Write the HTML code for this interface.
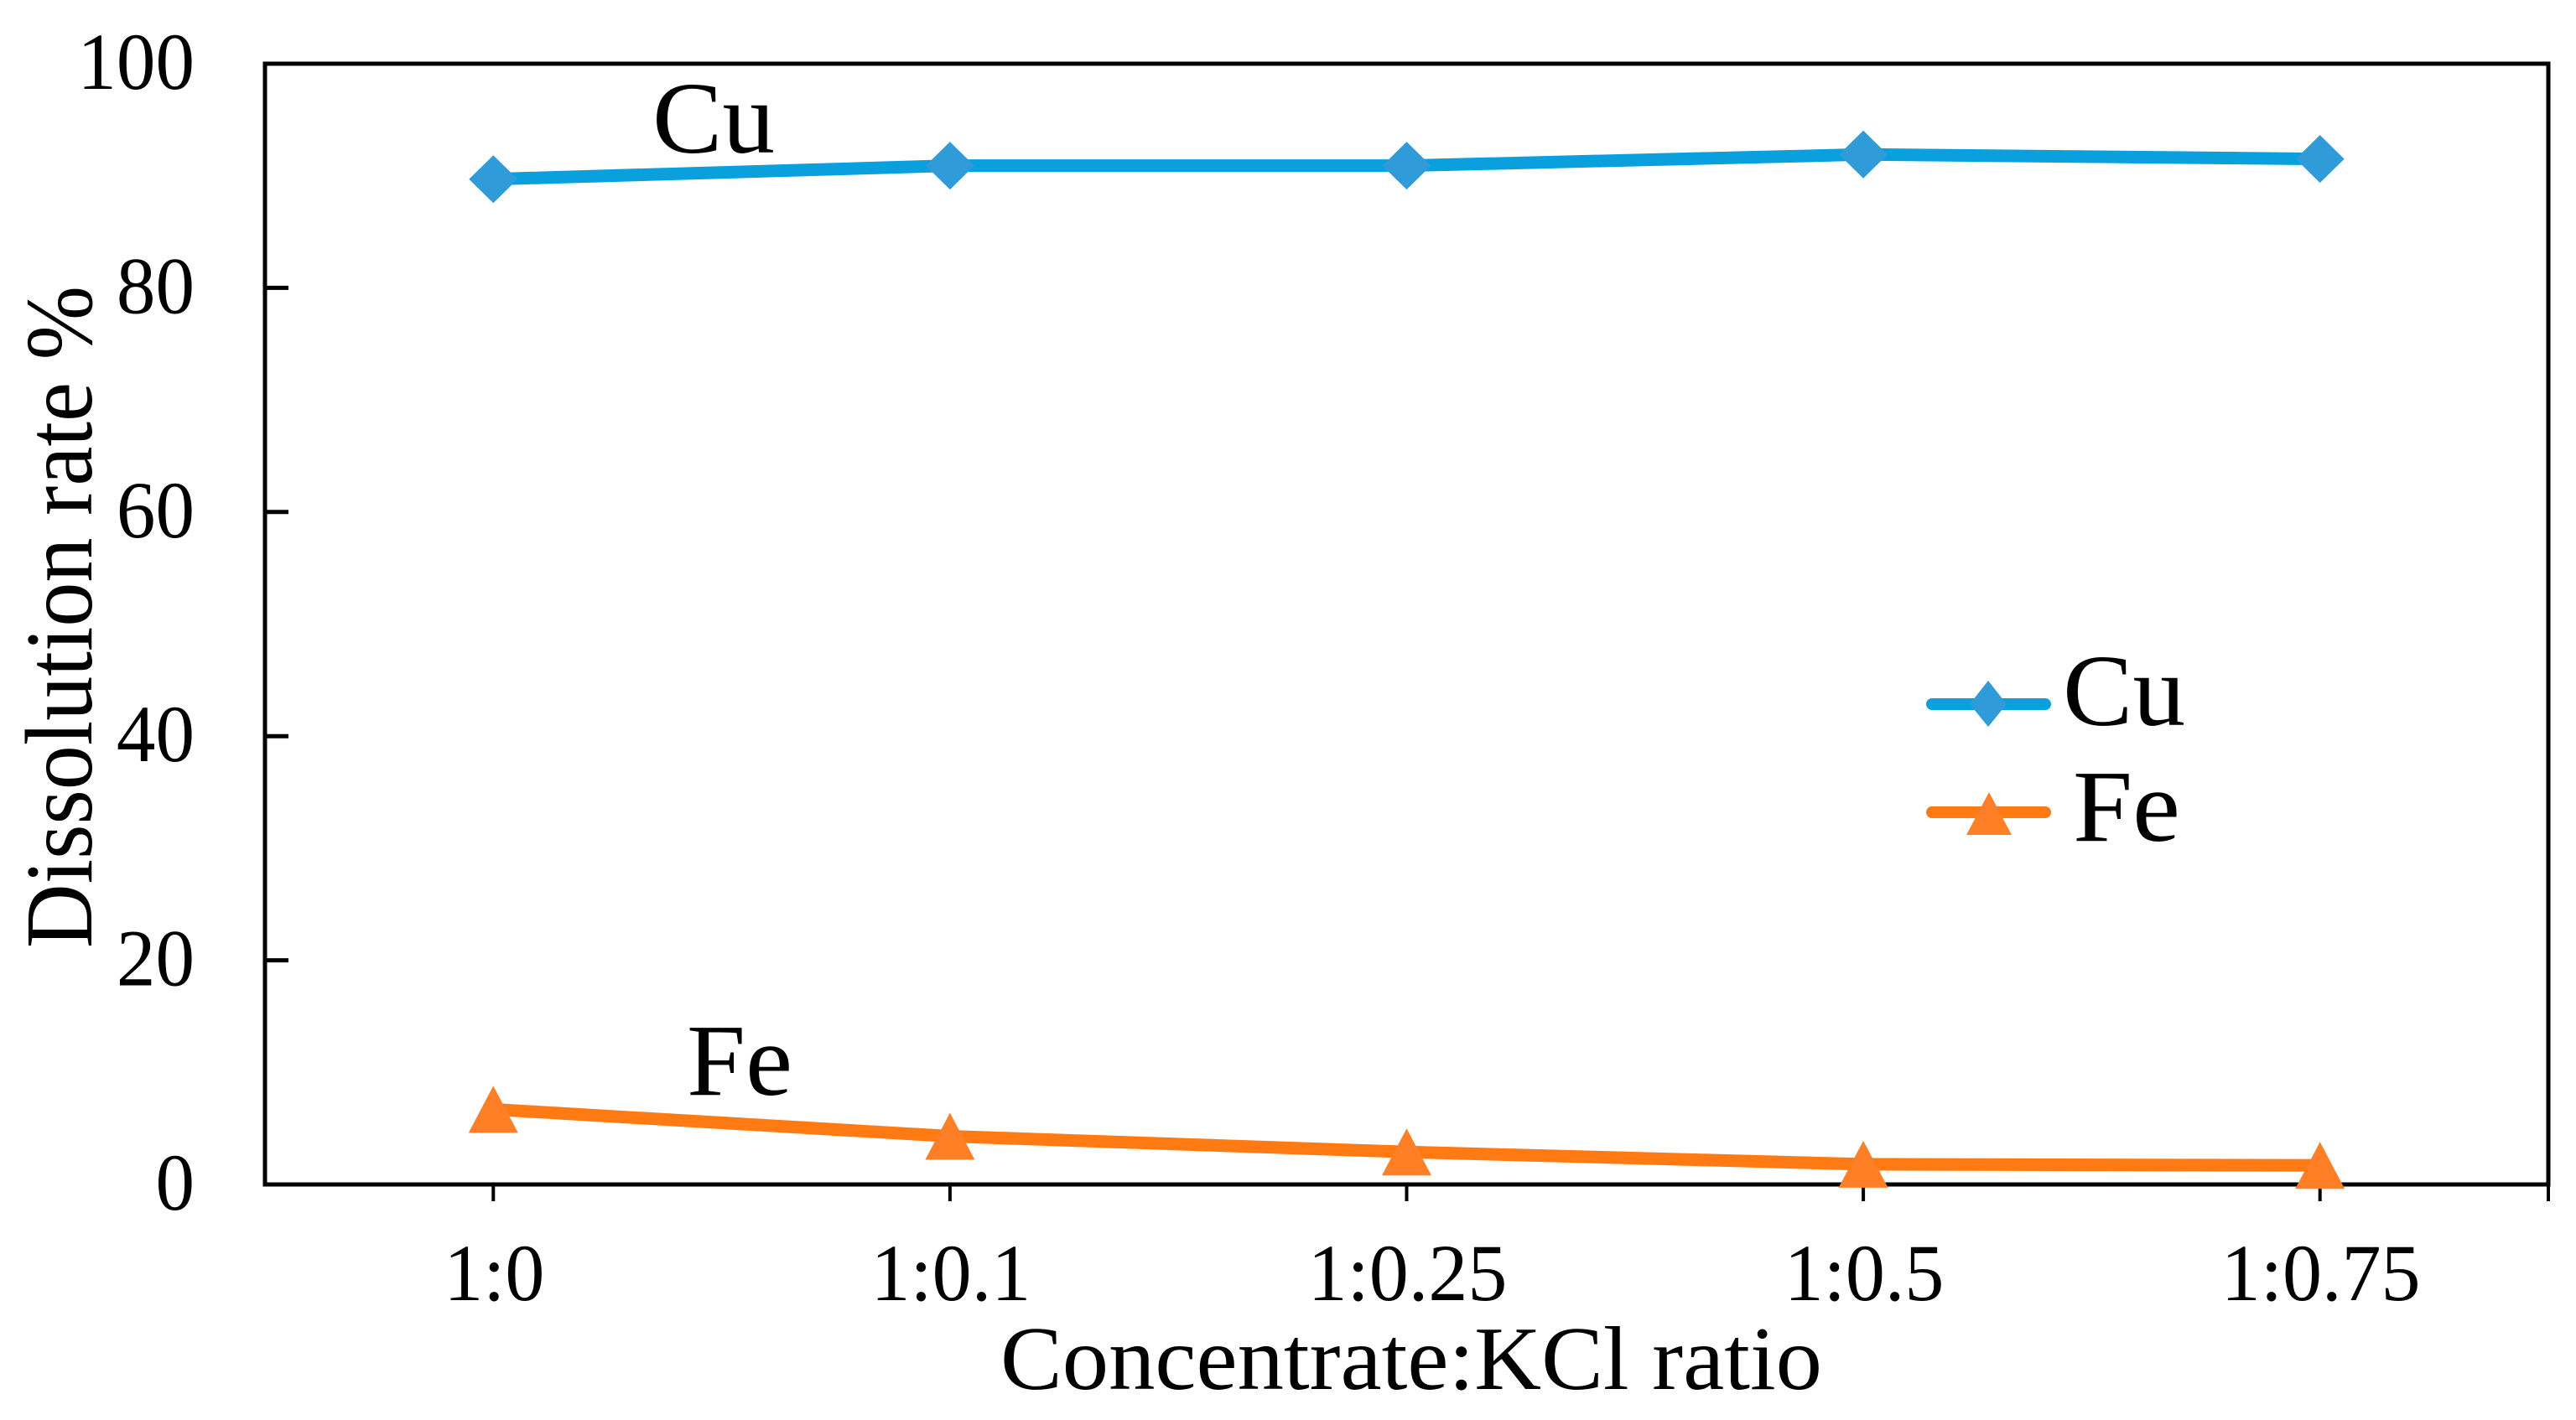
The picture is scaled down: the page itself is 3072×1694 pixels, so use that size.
<!DOCTYPE html>
<html lang="en">
<head>
<meta charset="utf-8">
<title>Dissolution rate vs Concentrate:KCl ratio</title>
<style>
html,body{margin:0;padding:0;background:#fff;width:3072px;height:1694px;overflow:hidden}
svg{display:block}
text{font-family:"Liberation Serif",serif;fill:#000}
</style>
</head>
<body>
<svg id="chart" xmlns="http://www.w3.org/2000/svg" width="3072" height="1694" viewBox="0 0 3072 1694">
  <rect width="3072" height="1694" fill="#fff"/>
  <text transform="translate(109,1131) rotate(-90)" font-size="114" textLength="790" lengthAdjust="spacingAndGlyphs">Dissolution rate %</text>
  <text x="1193" y="1657" font-size="108" textLength="980" lengthAdjust="spacingAndGlyphs">Concentrate:KCl ratio</text>
  <g id="axes"></g>
  <g id="series"></g>
  <text x="778" y="182" font-size="122" textLength="146" lengthAdjust="spacingAndGlyphs">Cu</text>
  <text x="819" y="1306" font-size="122" textLength="126" lengthAdjust="spacingAndGlyphs">Fe</text>
  <g>
    <g>
      <line x1="2304" y1="840" x2="2439" y2="840" stroke="#0A9FDD" stroke-width="14" stroke-linecap="round"/>
      <polygon points="2381,812 2403,840 2381,867 2359,840" fill="#2F9BD9" transform="translate(-10,0)"/>
      <text x="2460" y="865" font-size="122" textLength="146" lengthAdjust="spacingAndGlyphs">Cu</text>
    </g>
    <g>
      <line x1="2304" y1="969" x2="2439" y2="969" stroke="#FF7A12" stroke-width="14" stroke-linecap="round"/>
      <polygon points="2382,945 2409,996 2355,996" fill="#FF7F27" transform="translate(-10,0)"/>
      <text x="2472" y="1003" font-size="122" textLength="128" lengthAdjust="spacingAndGlyphs">Fe</text>
    </g>
  </g>
</svg>
<script>
const categories = ["1:0", "1:0.1", "1:0.25", "1:0.5", "1:0.75"];
const cuValues = [89.7, 90.9, 90.9, 91.9, 91.5];
const feValues = [6.7, 4.3, 2.9, 1.8, 1.7];
const yTicks = [0, 20, 40, 60, 80, 100];

const NS = "http://www.w3.org/2000/svg";
const left = 316, right = 3039, top_ = 76, bottom = 1413;
const yMax = 100;
const xScale = i => left + (right - left) * (i + 0.5) / categories.length;
const yScale = v => bottom - (bottom - top_) * v / yMax;

function make(tag, parent, attrs) {
  const el = document.createElementNS(NS, tag);
  for (const k in attrs) el.setAttribute(k, attrs[k]);
  parent.appendChild(el);
  return el;
}

const axes = document.getElementById("axes");
const seriesG = document.getElementById("series");

const frame = make("rect", axes, {x: left, y: top_, width: right - left, height: bottom - top_, fill: "none", stroke: "#000", "stroke-width": 5});



yTicks.forEach(v => {
  const y = yScale(v);
  if (v > 0 && v < yMax) {
    const t = make("line", axes, {x1: left, y1: y, x2: left + 28, y2: y, stroke: "#000", "stroke-width": 5});
    
    
  }
  const lab = make("text", axes, {transform: "translate(232," + (y + 30) + ") scale(.97,1)", "font-size": 96, "text-anchor": "end"});
  lab.textContent = v;
  
  
});

categories.forEach((c, i) => {
  const x = xScale(i);
  const t = make("line", axes, {x1: x, y1: bottom, x2: x, y2: bottom + 20, stroke: "#000", "stroke-width": 4});
  
  
  const lab = make("text", axes, {transform: "translate(" + (x + 1) + ",1551) scale(.98,1)", "font-size": 96, "text-anchor": "middle"});
  lab.textContent = c;
  
  
});

const boundary = make("line", axes, {x1: right, y1: bottom, x2: right, y2: bottom + 20, stroke: "#000", "stroke-width": 4});



const cuPts = cuValues.map((v, i) => xScale(i) + "," + yScale(v)).join(" ");
const cuLine = make("polyline", seriesG, {points: cuPts, fill: "none", stroke: "#0A9FDD", "stroke-width": 15, "stroke-linejoin": "round"});



const fePts = feValues.map((v, i) => xScale(i) + "," + yScale(v)).join(" ");
const feLine = make("polyline", seriesG, {points: fePts, fill: "none", stroke: "#FF7A12", "stroke-width": 15, "stroke-linejoin": "round"});



cuValues.forEach((v, i) => {
  const x = xScale(i), y = yScale(v);
  const m = make("polygon", seriesG, {points: x + "," + (y - 28.5) + " " + (x + 29) + "," + y + " " + x + "," + (y + 28.5) + " " + (x - 29) + "," + y, fill: "#2F9BD9"});
  
  
});

feValues.forEach((v, i) => {
  const x = xScale(i), y = yScale(v);
  const m = make("polygon", seriesG, {points: x + "," + (y - 28) + " " + (x + 29.5) + "," + (y + 28) + " " + (x - 29.5) + "," + (y + 28), fill: "#FF7F27"});
  
  
});
</script>
</body>
</html>
